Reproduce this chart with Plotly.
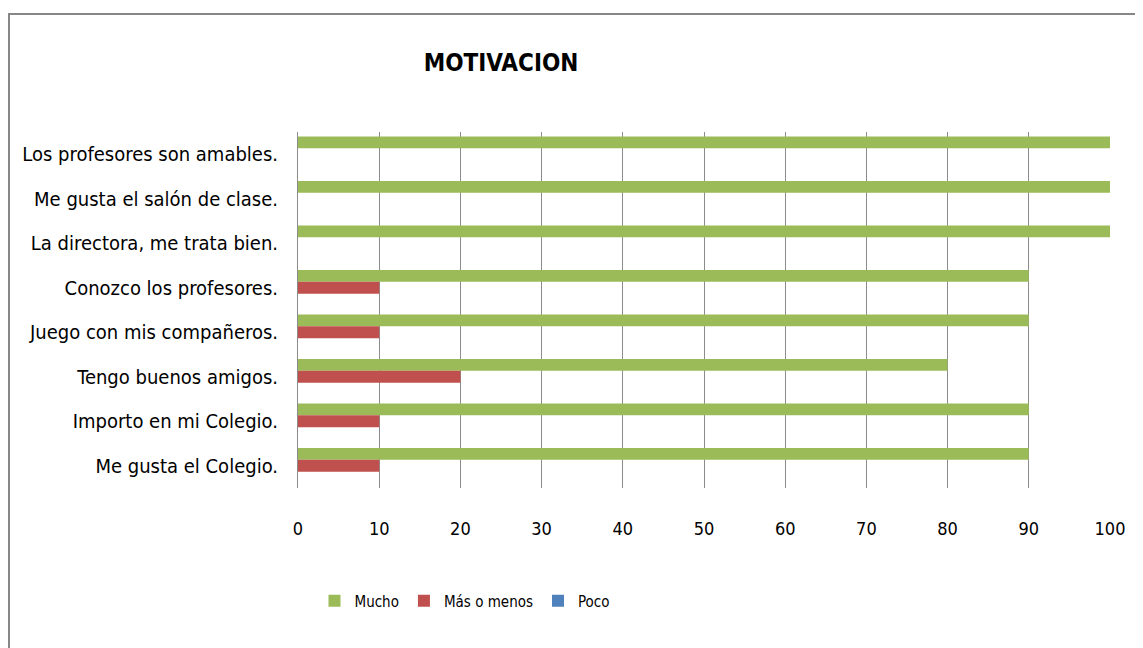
import plotly.graph_objects as go

categories = [
    "Los profesores son amables.",
    "Me gusta el salón de clase.",
    "La directora, me trata bien.",
    "Conozco los profesores.",
    "Juego con mis compañeros.",
    "Tengo buenos amigos.",
    "Importo en mi Colegio.",
    "Me gusta el Colegio.",
]
mucho = [100, 100, 100, 90, 90, 80, 90, 90]
mas_o_menos = [0, 0, 0, 10, 10, 20, 10, 10]
poco = [0, 0, 0, 0, 0, 0, 0, 0]
x_ticks = [0, 10, 20, 30, 40, 50, 60, 70, 80, 90, 100]

FONT = "Liberation Sans Narrow, Arial Narrow, DejaVu Sans Condensed, sans-serif"

W, H = 1143, 648
OFF = 8  # page body margin
L, R, T, B = 298 - OFF, 1110 - OFF, 132 - OFF, 488 - OFF

def px(x):
    return (x - OFF - L) / (R - L)

def py(y):
    return (B - (y - OFF)) / (B - T)

fig = go.Figure()
fig.add_trace(go.Bar(y=categories, x=mucho, name="Mucho", orientation="h",
                     marker=dict(color="#9BBB59", line=dict(width=0))))
fig.add_trace(go.Bar(y=categories, x=mas_o_menos, name="Más o menos", orientation="h",
                     marker=dict(color="#C0504D", line=dict(width=0))))
fig.add_trace(go.Bar(y=categories, x=poco, name="Poco", orientation="h",
                     marker=dict(color="#4F81BD", line=dict(width=0))))

fig.update_layout(
    width=W, height=H,
    margin=dict(l=L, r=W - R, t=T, b=H - B, autoexpand=False),
    paper_bgcolor="white", plot_bgcolor="white",
    barmode="group", bargap=0.2, bargroupgap=0,
    font=dict(family=FONT, color="black"),
    title=dict(text="<b>MOTIVACION</b>", font=dict(family=FONT, size=24, color="black"),
               xref="container", yref="container", x=(501 - OFF) / W, y=1 - (63 - OFF) / H,
               xanchor="center", yanchor="middle"),
    xaxis=dict(range=[0, 100], tickvals=x_ticks, showgrid=True, gridcolor="#8C8C8C",
               gridwidth=1, zeroline=False, showline=False, ticks="", automargin=False,
               tickfont=dict(family=FONT, size=18, color="black"),
               ticklabelstandoff=28, fixedrange=True),
    yaxis=dict(autorange="reversed", showline=True, linecolor="#8C8C8C", linewidth=1,
               showgrid=False, ticks="", automargin=False,
               tickfont=dict(family=FONT, size=20, color="black"),
               ticklabelstandoff=15),
    legend=dict(orientation="h", x=px(465), y=py(601), xanchor="center", yanchor="middle",
                font=dict(family=FONT, size=15, color="black"), traceorder="normal",
                itemwidth=30, bgcolor="rgba(0,0,0,0)"),
    shapes=[dict(type="rect", xref="paper", yref="paper",
                 x0=px(9), x1=px(1170), y0=py(14), y1=py(680),
                 line=dict(color="#878787", width=2), fillcolor="rgba(0,0,0,0)", layer="below")],
)

fig.write_html("out.html")
